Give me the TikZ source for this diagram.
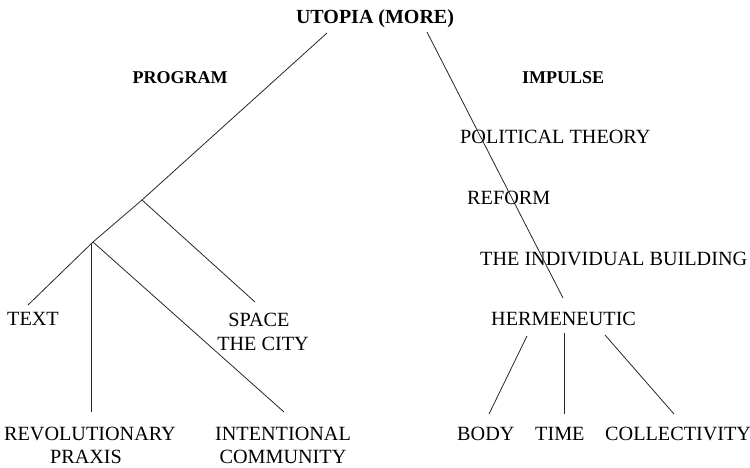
\documentclass[tikz,border=0pt]{standalone}
\usepackage{fontspec}
\setmainfont{Liberation Serif}
\begin{document}
\begin{tikzpicture}[x=1pt,y=-1pt,
  lbl/.style={inner sep=0pt,font=\fontsize{20.2}{24}\selectfont},
  hdr/.style={inner sep=0pt,font=\fontsize{18}{22}\selectfont\bfseries},
  ttl/.style={inner sep=0pt,font=\fontsize{20}{24}\selectfont\bfseries},
  edge/.style={draw=black!85,line width=0.8pt}]
\useasboundingbox (0,0) rectangle (750,467);
% texts
\node[ttl,anchor=base] (utopia) at (375,23) {UTOPIA (MORE)};
\node[hdr,anchor=base] (program) at (180,83) {PROGRAM};
\node[hdr,anchor=base west] (impulse) at (522,83) {IMPULSE};
\node[lbl,anchor=base west] (pol) at (460,143) {POLITICAL THEORY};
\node[lbl,anchor=base west] (reform) at (467,204) {REFORM};
\node[lbl,anchor=base west] (indiv) at (480,265) {THE INDIVIDUAL BUILDING};
\node[lbl,anchor=base west] (herm) at (491,325) {HERMENEUTIC};
\node[lbl,anchor=base west] (text) at (7,325) {TEXT};
\node[lbl,anchor=base] (space) at (259,326) {SPACE};
\node[lbl,anchor=base] (city) at (263,350) {THE CITY};
\node[lbl,anchor=base] (rev) at (90,440) {REVOLUTIONARY};
\node[lbl,anchor=base] (praxis) at (86,463) {PRAXIS};
\node[lbl,anchor=base] (inten) at (283,440) {INTENTIONAL};
\node[lbl,anchor=base] (comm) at (283,463) {COMMUNITY};
\node[lbl,anchor=base west] (body) at (457,440) {BODY};
\node[lbl,anchor=base west] (time) at (535,440) {TIME};
\node[lbl,anchor=base west] (coll) at (605,440) {COLLECTIVITY};
% connector ends
\coordinate (tl) at (327,33);
\coordinate (tr) at (427,32);
\coordinate (b1) at (142,200);
\coordinate (b2) at (93,242);
\coordinate (textend) at (28,305);
\coordinate (spaceend) at (255,302);
\coordinate (revtop) at (91,243);
\coordinate (revend) at (91,412);
\coordinate (intend) at (284,412);
\coordinate (hermtop) at (563,298);
\coordinate (h1) at (527,336);
\coordinate (h1e) at (489,414);
\coordinate (h2) at (564,333);
\coordinate (h2e) at (564,414);
\coordinate (h3) at (605,335);
\coordinate (h3e) at (674,414);
% connectors
\draw[edge] (tl) -- (b1) -- (b2) -- (textend);
\draw[edge] (b1) -- (spaceend);
\draw[edge] (revtop) -- (revend);
\draw[edge] (b2) -- (intend);
\draw[edge] (tr) -- (hermtop);
\draw[edge] (h1) -- (h1e);
\draw[edge] (h2) -- (h2e);
\draw[edge] (h3) -- (h3e);
\end{tikzpicture}
\end{document}
